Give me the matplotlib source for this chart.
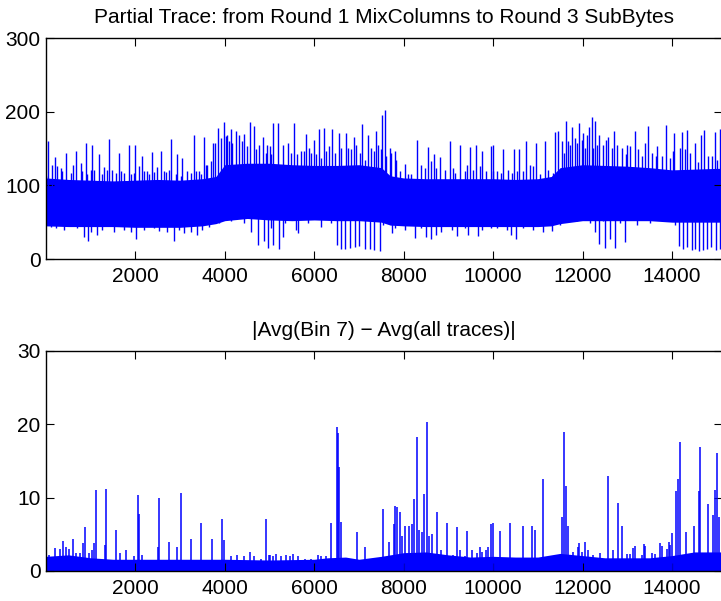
import matplotlib
matplotlib.use("Agg")
import matplotlib.pyplot as plt
import numpy as np

plt.rcParams['font.family'] = ['Liberation Sans', 'DejaVu Sans']

# ---------------- data ----------------
title_top = "Partial Trace: from Round 1 MixColumns to Round 3 SubBytes"
title_bot = "|Avg(Bin 7) \u2212 Avg(all traces)|"
xticks = [2000, 4000, 6000, 8000, 10000, 12000, 14000]
yticks_top = [0, 100, 200, 300]
yticks_bot = [0, 10, 20, 30]

# top trace: dense band (per segment)
band_x = [0, 500, 1000, 1500, 2000, 2500, 3000, 3500, 3800, 4000, 4500, 5000, 5500, 6000,
          6500, 7000, 7500, 7700, 8000, 8500, 9000, 9500, 10000, 10500, 11000, 11300,
          11500, 12000, 12500, 13000, 13500, 14000, 14500, 15000, 15120]
band_edge_hi = [110, 108, 107, 106, 107, 108, 107, 109, 112, 128, 130, 130, 128, 127, 127,
                128, 124, 113, 110, 109, 109, 109, 109, 108, 109, 112, 124, 128, 127, 126,
                124, 121, 122, 123, 123]
band_core_hi = [98, 96, 95, 95, 95, 96, 96, 97, 100, 112, 116, 116, 114, 114, 114,
                114, 111, 102, 99, 98, 98, 98, 98, 97, 98, 101, 111, 116, 114, 114,
                112, 110, 111, 111, 111]
band_core_lo = [54, 54, 54, 54, 54, 54, 54, 55, 57, 60, 62, 60, 60, 60, 60,
                60, 58, 55, 54, 54, 54, 54, 54, 54, 54, 55, 58, 60, 60, 60,
                60, 58, 58, 58, 58]
band_edge_lo = [45, 44, 44, 44, 43, 43, 43, 45, 48, 52, 55, 53, 52, 53, 52,
                52, 50, 46, 45, 44, 44, 44, 44, 44, 44, 45, 48, 52, 52, 52,
                52, 50, 50, 50, 50]

top_up_x = [47, 204, 442, 666, 890, 1038, 1188, 1412, 1635, 1859, 1986, 2143, 2367, 2582,
            2805, 2940, 3052, 3313, 3537, 3745, 3850, 3984, 4058, 4134, 4246, 4431, 4566,
            4655, 4863, 4938, 5080, 5192, 5416, 5550, 5826, 5991, 6103, 6214, 6407, 6550,
            6699, 6892, 7071, 7206, 7377, 7526, 7579, 7690, 7801, 8025, 8301, 8547, 8674,
            8822, 9032, 9256, 9480, 9614, 9763, 9950, 10002, 10225, 10465, 10583, 10733,
            10957, 11171, 11395, 11456, 11620, 11769, 11926, 12000, 12149, 12209, 12290,
            12373, 12574, 12702, 12984, 13171, 13395, 13469, 13677, 13865, 14051, 14230,
            14348, 14514, 14661, 14721, 14961, 15073,
            143, 330, 778, 1002, 1300, 1486, 1747, 2083, 2268, 2492, 2680, 3164, 3425, 3610,
            10, 256, 368, 554, 614, 815, 927, 1076, 1262, 1374, 1561, 1673, 1896, 1971,
            2195, 2307, 2418, 2642, 2754, 2903, 3015, 3239, 3350, 3462, 3574, 3686, 3776,
            3910, 4022, 4096, 4171, 4320, 4394, 4506, 4693, 4767, 4916, 5028,
            5005, 5304, 5490, 5624, 5714, 5773, 5885, 5937, 6049, 6161, 6273, 6333, 6459,
            6609, 6758, 6832, 6944, 7019, 7131, 7280, 7339, 7429, 7503, 7615, 7727, 7839,
            7914, 8100, 8175, 8398, 8473, 8622, 8734, 8920, 9107, 9144, 9368, 9427, 9554,
            9703, 9852, 10001,
            10077, 10188, 10338, 10412, 10539, 10658, 10822, 10897, 11046, 11232, 11329,
            11531, 11583, 11680, 11717, 11829, 11866, 11978, 12053, 12105, 12239, 12329,
            12463, 12523, 12649, 12761, 12873, 12970, 13059, 13246, 13320, 13544, 13641,
            13768, 13954, 14029, 14178, 14290, 14402, 14588, 14812, 14886, 15013]
top_up_v = [160, 139, 144, 147, 157, 155, 142, 163, 144, 155, 155, 140, 145, 147,
            163, 142, 137, 168, 166, 157, 178, 186, 169, 176, 174, 170, 186,
            180, 166, 155, 185, 184, 158, 184, 170, 161, 176, 178, 176, 171,
            171, 166, 183, 169, 174, 195, 202, 151, 147, 129, 162, 152, 142,
            139, 160, 155, 152, 155, 146, 154, 155, 150, 150, 150, 160,
            157, 160, 173, 174, 188, 179, 184, 171, 179, 193, 187,
            169, 166, 174, 155, 174, 157, 180, 153, 182, 171, 173,
            175, 157, 169, 175, 172, 177,
            127, 124, 130, 121, 125, 121, 117, 126, 119, 125, 118, 119, 119, 128,
            112, 126, 119, 117, 128, 119, 115, 121, 115, 121, 117, 120, 115, 117,
            119, 115, 118, 119, 121, 115, 112, 117, 119, 115, 128, 133, 158,
            164, 167, 160, 158, 169, 160, 153, 149, 155, 144, 142,
            153, 155, 144, 142, 146, 146, 151, 144, 142, 137, 146, 153, 144,
            151, 151, 149, 155, 144, 135, 151, 146, 155, 149, 140, 144, 135,
            119, 115, 115, 128, 124, 133, 124, 121, 124, 117, 119, 128, 121,
            126, 119, 119,
            119, 117, 121, 117, 119, 120, 128, 126, 115, 121, 117,
            160, 144, 160, 155, 164, 158, 162, 151, 169, 151, 155,
            155, 162, 151, 155, 151, 142, 153, 149, 140, 144, 140,
            140, 137, 146, 151, 149, 144, 131, 140, 140, 135]

top_dn_x = [107, 852, 942, 1150, 2008, 2866, 3090, 3388, 4736, 4880, 4975, 5087, 5221,
            5311, 5640, 6510, 6600, 6691, 6803, 6915, 7011, 7130, 7240, 7340, 7474, 7735,
            8249, 8496, 8607, 8733, 9203, 9442, 9666, 10411, 10510, 11120, 12277, 12380,
            12507, 12619, 12730, 12940, 14163, 14252, 14348, 14438, 14512, 14609, 14698,
            14788, 14885, 14982, 15073,
            218, 405, 703, 1002, 1262, 1523, 1747, 1896, 2195, 2418, 2530, 2717, 2978,
            3239, 3500, 3649, 3873, 4133, 4432, 4582,
            5043, 5341, 5602, 5863, 6161, 6385, 7541, 7802, 8026, 8398, 8846, 9070, 9368,
            9741, 9964, 10077, 10300, 10673, 10897, 11307, 11493, 11866, 12164, 12463,
            12836, 13209, 13507, 13880, 14066]
top_dn_v = [44, 30, 25, 33, 27, 25, 35, 33, 19, 24, 15, 19, 14,
            30, 35, 19, 14, 13, 15, 16, 17, 13, 14, 12, 11, 35,
            28, 30, 27, 32, 31, 33, 31, 33, 27, 36, 37, 21,
            15, 27, 15, 23, 18, 14, 16, 12, 14, 11, 12,
            14, 16, 12, 14,
            42, 40, 42, 37, 40, 37, 40, 36, 40, 42, 38, 37, 40,
            37, 40, 44, 49, 51, 49, 37,
            42, 49, 40, 49, 44, 49, 46, 42, 40, 42, 37, 40, 42,
            40, 42, 42, 40, 42, 40, 38, 46, 51, 49, 51,
            49, 46, 49, 51, 46]

# bottom trace: dense baseline + spikes
base_x = [0, 500, 1000, 1500, 2000, 3000, 4000, 5000, 6000, 6300, 6700, 7000, 7500, 8000,
          8500, 9000, 9500, 10000, 10500, 11000, 11500, 12000, 12500, 13000, 13500, 14000,
          14500, 15000, 15120]
base_core = [1.3, 1.4, 1.2, 1.1, 1.1, 1.1, 1.1, 1.1, 1.1, 1.2, 1.2, 1.1, 1.3, 1.7,
             1.7, 1.5, 1.3, 1.3, 1.3, 1.3, 1.5, 1.4, 1.2, 1.2, 1.2, 1.4,
             1.7, 1.7, 1.7]
base_edge = [2.0, 2.2, 1.8, 1.6, 1.6, 1.6, 1.6, 1.5, 1.6, 1.8, 1.9, 1.6, 2.0, 2.5,
             2.6, 2.2, 1.9, 2.0, 1.9, 1.9, 2.4, 2.1, 1.8, 1.8, 1.8, 2.1,
             2.6, 2.6, 2.6]

bot_x = [69, 204, 308, 383, 443, 517, 606, 681, 756, 830, 882, 964, 1039, 1076, 1113, 1315,
         1337, 1561, 1650, 1785, 1971, 2067, 2090, 2143, 2515, 2530, 2754, 2940, 3015, 3253,
         3477, 3709, 3946, 3984, 4559, 4916,
         6385, 6512, 6541, 6564, 6594, 6966, 7131, 7541, 7668, 7787, 7810, 7847, 7928, 7973,
         8026, 8116, 8190, 8235, 8295, 8340, 8413, 8458, 8525, 8570, 8644, 8749, 8980, 9203,
         9427, 9705, 9964, 10002, 10165, 10389, 10673, 10881, 10948, 11120, 11552, 11590,
         11628, 11680, 11926, 12053, 12581, 12798, 12894, 13171, 13373, 13730, 13932, 13991,
         14088, 14147, 14178, 14312, 14498, 14603, 14625, 14811, 14908, 14961, 14997, 15043,
         11792, 11904, 11978, 12127, 12239, 12388, 12500, 12687, 12985, 13059, 13134, 13320,
         13395, 13544, 13619, 13768, 13880, 13954,
         8846, 8920, 9107, 9256, 9368, 9532, 9629, 9741, 9852, 9890,
         5005, 5080, 5154, 5266, 5378, 5453, 5527, 5639, 5788, 5937, 6087, 6161, 6273,
         4133, 4283, 4432, 4655, 4805, 4991]
bot_v = [2.2, 3.1, 3.0, 4.1, 3.3, 3.0, 4.3, 2.5, 2.4, 3.8, 6.0, 2.5, 2.8, 3.8, 11.1, 3.5,
         11.2, 5.6, 2.4, 2.9, 2.0, 10.4, 7.8, 2.2, 3.3, 10.0, 4.0, 3.3, 10.7, 4.3,
         6.5, 4.3, 7.1, 4.2, 2.6, 7.1,
         6.6, 19.6, 18.8, 14.2, 6.7, 5.3, 3.3, 8.5, 3.9, 6.4, 8.8, 8.7, 8.0, 4.8,
         6.1, 6.2, 6.4, 9.8, 18.3, 5.6, 5.3, 10.5, 20.3, 4.8, 5.0, 8.1, 6.5, 6.0,
         5.4, 3.3, 6.4, 6.5, 5.4, 6.5, 6.1, 6.2, 5.6, 12.5, 7.4, 18.9,
         11.6, 6.2, 3.8, 4.0, 13.0, 9.3, 6.2, 3.4, 3.7, 3.8, 4.0, 5.2,
         10.9, 12.6, 17.6, 5.3, 6.2, 10.9, 16.9, 9.2, 7.6, 11.1, 16.1, 7.4,
         2.6, 3.3, 2.6, 2.9, 2.2, 2.4, 1.7, 2.9, 2.3, 2.3, 3.1, 2.2,
         3.4, 2.4, 2.3, 3.4, 3.0, 3.5,
         2.9, 2.0, 2.2, 2.9, 2.0, 2.9, 2.4, 2.6, 2.9, 3.3,
         2.2, 2.0, 2.3, 2.0, 2.2, 2.0, 2.3, 2.1, 1.7, 1.7, 2.2, 2.0, 2.0,
         2.0, 2.2, 2.0, 2.0, 1.7, 2.2]

# ---------------- drawing ----------------
BLUE = (0, 0, 1)
W, H = 721, 601
fig = plt.figure(figsize=(W / 100, H / 100), dpi=100)
ax1 = fig.add_axes([46 / W, 1 - 259 / H, (722 - 46) / W, 221 / H])
ax2 = fig.add_axes([46 / W, 1 - 571 / H, (722 - 46) / W, 220 / H])

XMAX = 15120

# top
ax1.fill_between(band_x, band_edge_lo, band_edge_hi, color=BLUE, lw=0)
ax1.fill_between(band_x, band_core_lo, band_core_hi, color=BLUE, lw=0)
mid_top = np.interp(top_up_x, band_x, band_core_hi)
ax1.vlines(top_up_x, mid_top, top_up_v, color=BLUE, lw=1.0)
mid_bot = np.interp(top_dn_x, band_x, band_core_lo)
ax1.vlines(top_dn_x, top_dn_v, mid_bot, color=BLUE, lw=1.0)
ax1.set_ylim(0, 300)
ax1.set_yticks(yticks_top)
ax1.set_title(title_top, fontsize=15, pad=11)

# bottom
ax2.fill_between(base_x, 0, base_edge, color=BLUE, lw=0)
ax2.fill_between(base_x, 0, base_core, color=BLUE, lw=0)
ax2.vlines(bot_x, 0, bot_v, color=BLUE, lw=1.1)
ax2.set_ylim(0, 30)
ax2.set_yticks(yticks_bot)
ax2.set_title(title_bot, fontsize=15, pad=11)

for ax in (ax1, ax2):
    ax.set_xlim(0, XMAX)
    ax.set_xticks(xticks)
    ax.tick_params(direction='in', length=6, width=0.8, top=True, right=True,
                   labelsize=15, colors='black')
    ax.tick_params(axis='x', pad=6)
    ax.tick_params(axis='y', pad=4)
    for s in ax.spines.values():
        s.set_linewidth(1.0)
        s.set_color('black')

fig.savefig("out.png", dpi=100)
